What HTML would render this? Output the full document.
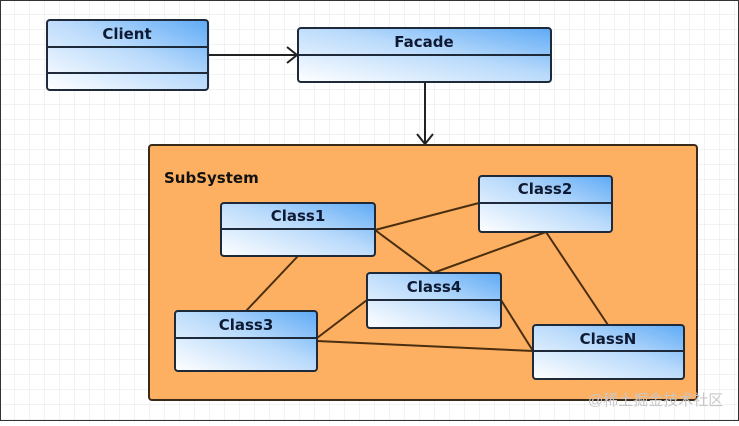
<!DOCTYPE html>
<html><head><style>
body{margin:0;width:739px;height:422px;overflow:hidden;background:#fff;font-family:"DejaVu Sans","Liberation Sans",sans-serif}
</style></head><body>
<svg width="739" height="422" xmlns="http://www.w3.org/2000/svg">
<defs>
<pattern id="g" width="15" height="15" patternUnits="userSpaceOnUse"><path d="M15 0V15H0" fill="none" stroke="#e4e4e4" stroke-width="1"/></pattern>
<linearGradient id="b" x1="0" y1="1" x2="1" y2="0"><stop offset="0" stop-color="#ffffff"/><stop offset="0.55" stop-color="#b9dafb"/><stop offset="1" stop-color="#5eaaf6"/></linearGradient>
</defs>
<rect width="739" height="422" fill="url(#g)"/>
<rect x="0.5" y="0.5" width="738" height="420" fill="none" stroke="#333" stroke-width="1"/>
<g stroke="#222" stroke-width="2" fill="none">
<line x1="208" y1="55" x2="297" y2="55"/><path d="M287 47L297 55L287 63"/>
<line x1="425" y1="82" x2="425" y2="144"/><path d="M417 134L425 144L433 134"/>
</g>
<rect x="149" y="145" width="548" height="255" rx="3" fill="#fdb062" stroke="#3a2a1a" stroke-width="2"/>
<text x="164" y="183" font-weight="bold" font-size="15" fill="#111">SubSystem</text>
<g stroke="#4a2e10" stroke-width="2">
<line x1="375" y1="230" x2="479" y2="203"/><line x1="375" y1="230" x2="433" y2="273"/>
<line x1="546" y1="232" x2="433" y2="273"/><line x1="546" y1="232" x2="608" y2="325"/>
<line x1="298" y1="256" x2="246" y2="311"/><line x1="317" y1="338" x2="367" y2="300"/>
<line x1="317" y1="341" x2="533" y2="351"/><line x1="501" y1="300" x2="533" y2="351"/>
</g>
<g stroke="#1e2a3a" stroke-width="2" fill="url(#b)" font-weight="bold" font-size="15">
<rect x="47" y="20" width="161" height="70" rx="3"/><line x1="47" y1="47" x2="208" y2="47"/><line x1="47" y1="73" x2="208" y2="73"/>
<rect x="298" y="28" width="253" height="54" rx="3"/><line x1="298" y1="55" x2="551" y2="55"/>
<rect x="221" y="203" width="154" height="53" rx="3"/><line x1="221" y1="229" x2="375" y2="229"/>
<rect x="479" y="176" width="133" height="56" rx="3"/><line x1="479" y1="203" x2="612" y2="203"/>
<rect x="367" y="273" width="134" height="55" rx="3"/><line x1="367" y1="300" x2="501" y2="300"/>
<rect x="175" y="311" width="142" height="60" rx="3"/><line x1="175" y1="338" x2="317" y2="338"/>
<rect x="533" y="325" width="151" height="54" rx="3"/><line x1="533" y1="351" x2="684" y2="351"/>
</g>
<g font-weight="bold" font-size="15" fill="#0e1a33" text-anchor="middle">
<text x="127" y="39">Client</text><text x="424" y="47">Facade</text>
<text x="298" y="221">Class1</text><text x="545" y="194">Class2</text>
<text x="434" y="292">Class4</text><text x="246" y="330">Class3</text>
<text x="608" y="344">ClassN</text>
</g>
<text x="588" y="405" font-size="15" fill="#c8c8c8" font-family="'Liberation Sans','Noto Sans CJK SC',sans-serif">@稀土掘金技术社区</text>
</svg>
</body></html>
